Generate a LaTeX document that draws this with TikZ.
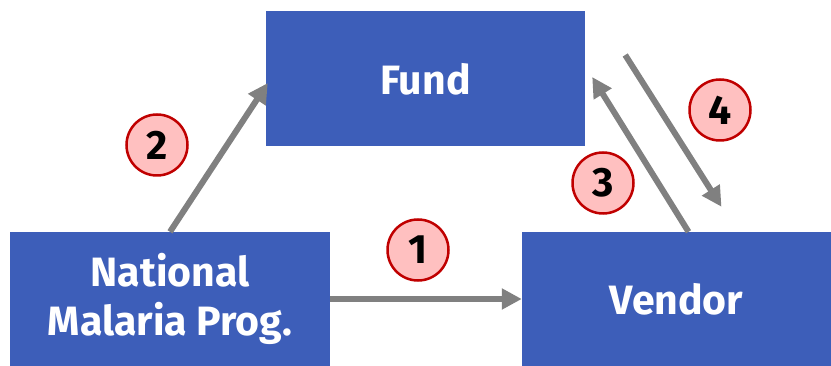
\documentclass[tikz,border=0pt]{standalone}
\usepackage{fontspec}
\setmainfont{Fira Sans}
\usetikzlibrary{arrows.meta,calc}
\definecolor{boxblue}{HTML}{3D5EB9}
\definecolor{arrgray}{HTML}{808080}
\definecolor{cfill}{HTML}{FFC0C0}
\definecolor{cdraw}{HTML}{C00000}
\begin{document}
\begin{tikzpicture}[x=1pt,y=1pt,
  box/.style={fill=boxblue,draw=none,inner sep=0pt,text=white,font=\fontsize{41}{49}\selectfont\bfseries,align=center},
  conn/.style={draw=arrgray,line width=6pt,-{Triangle[length=20pt,width=20pt]}},
  num/.style={circle,fill=cfill,draw=cdraw,line width=2.5pt,minimum size=61pt,inner sep=0pt,font=\fontsize{41}{49}\selectfont\bfseries}]
\useasboundingbox (0,0) rectangle (831,-366);
\node[box,minimum width=319pt,minimum height=135pt] (fund) at (425.5,-79) {Fund};
\node[box,minimum width=320pt,minimum height=134pt] (nmp) at (170,-299) {National\\Malaria Prog.};
\node[box,minimum width=309pt,minimum height=134pt] (vendor) at (676.5,-299) {Vendor};
\coordinate (a4s) at ($(fund.east)+(40,24)$);
\coordinate (a4e) at ($(vendor.north)+(45,25)$);
\draw[conn] (nmp.north) -- ($(fund.west)+(2,-4)$);
\draw[conn] (nmp.east) -- (vendor.west);
\draw[conn] ($(vendor.north)+(12,0)$) -- ($(fund.east)+(7,2)$);
\draw[conn] (a4s) -- (a4e);
\node[num] (n1) at (418,-250) {1};
\node[num] (n2) at (157,-145) {2};
\node[num] (n3) at (603,-183) {3};
\node[num] (n4) at (720,-110) {4};
\end{tikzpicture}
\end{document}
